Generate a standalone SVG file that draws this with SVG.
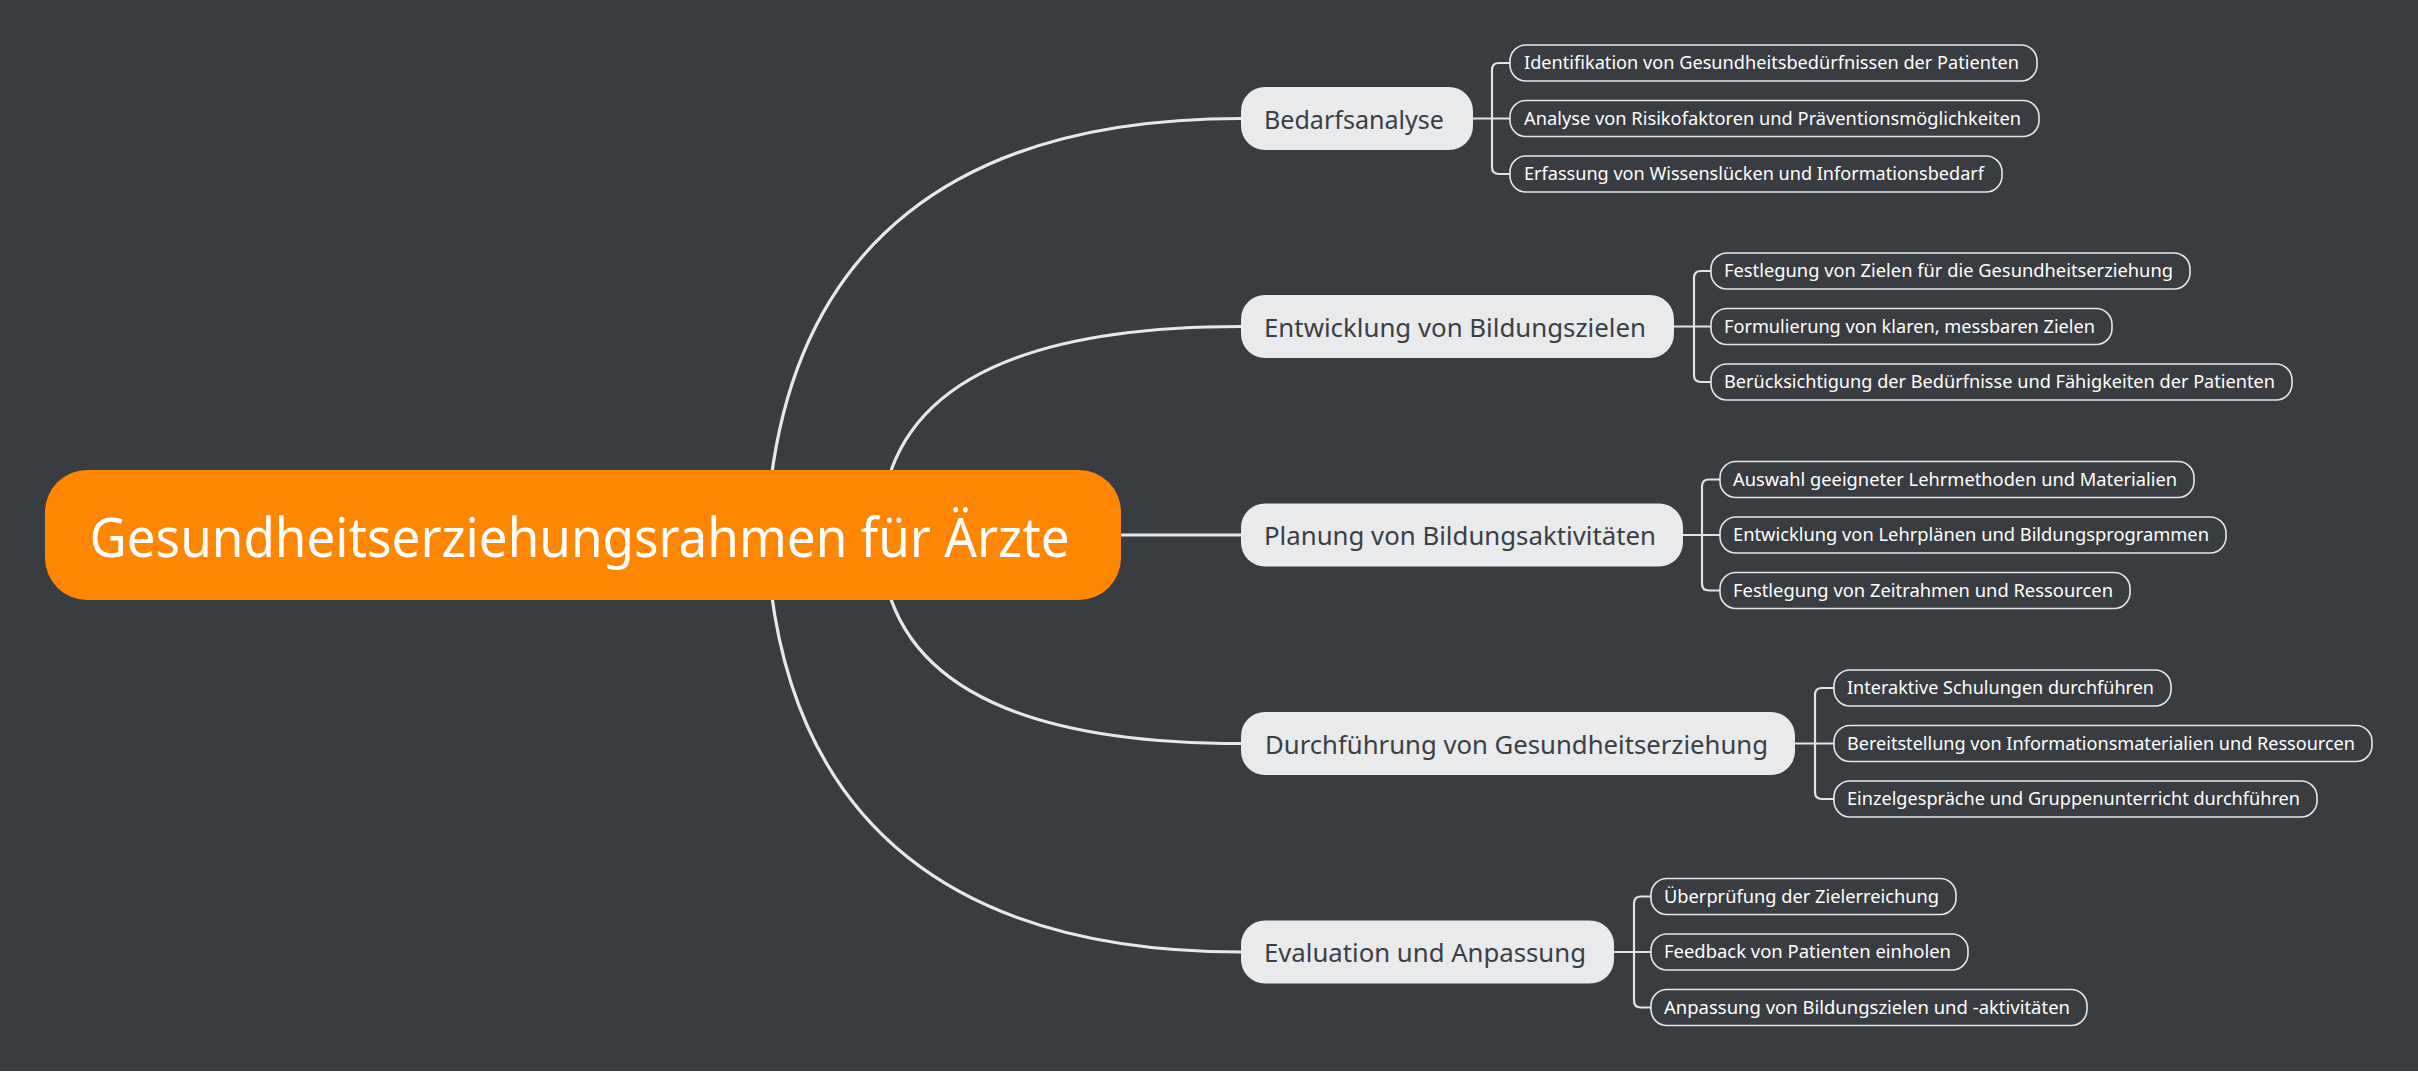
<svg xmlns="http://www.w3.org/2000/svg" width="2418" height="1086" viewBox="0 0 2418 1086">
<style>
.bg{fill:#393c41}
.conn{fill:none;stroke:#e8e8e8;stroke-width:3.2;stroke-linecap:round}
.br{fill:none;stroke:#e3e3e3;stroke-width:2.2}
.root{fill:#ff8600}
.main{fill:#e9eaec}
.leaf{fill:#393c41;stroke:#e6e6e6;stroke-width:1.6}
.tr{font-family:"Noto Sans","Open Sans","DejaVu Sans",sans-serif;font-size:54px;fill:#ffffff}
.tm{font-family:"Noto Sans","Open Sans","DejaVu Sans",sans-serif;font-size:26px;fill:#3b3e44}
.tl{font-family:"Noto Sans","Open Sans","DejaVu Sans",sans-serif;font-size:18px;fill:#ffffff}
</style>
<rect class="bg" x="0" y="0" width="2418" height="1086"/>
<rect x="0" y="1071" width="2418" height="15" fill="#ffffff"/>
<g id="connectors">
<path class="conn" d="M771,480 C800,250 950,118.5 1241,118.5"/>
<path class="conn" d="M888,480 C920,370 1050,326.5 1241,326.5"/>
<path class="conn" d="M1110,535 H1241"/>
<path class="conn" d="M888,590 C920,700 1050,743.5 1241,743.5"/>
<path class="conn" d="M771,590 C800,820 950,952 1241,952"/>
<path class="br" d="M1473,118.5 H1510 M1510,63 H1499 Q1492,63 1492,70 V167 Q1492,174 1499,174 H1510"/>
<path class="br" d="M1674,326.5 H1711 M1711,271 H1701 Q1694,271 1694,278 V375 Q1694,382 1701,382 H1711"/>
<path class="br" d="M1683,535 H1720 M1720,479.5 H1709 Q1702,479.5 1702,486.5 V583.5 Q1702,590.5 1709,590.5 H1720"/>
<path class="br" d="M1795,743.5 H1834 M1834,688 H1822 Q1815,688 1815,695 V792 Q1815,799 1822,799 H1834"/>
<path class="br" d="M1614,952 H1651 M1651,896.5 H1641 Q1634,896.5 1634,903.5 V1000.5 Q1634,1007.5 1641,1007.5 H1651"/>
</g>
<g id="root">
<rect class="root" x="45" y="470" width="1076" height="130" rx="42"/>
<text class="tr" x="89.5" y="556.5" textLength="980" lengthAdjust="spacingAndGlyphs">Gesundheitserziehungsrahmen für Ärzte</text>
</g>
<g id="n1">
<rect class="main" x="1241" y="87" width="232" height="63" rx="24"/>
<text class="tm" x="1264" y="128.5" textLength="180" lengthAdjust="spacingAndGlyphs">Bedarfsanalyse</text>
</g>
<g id="n1a"><rect class="leaf" x="1510" y="45" width="527" height="36" rx="16"/><text class="tl" x="1524" y="69.3" textLength="495" lengthAdjust="spacingAndGlyphs">Identifikation von Gesundheitsbedürfnissen der Patienten</text></g>
<g id="n1b"><rect class="leaf" x="1510" y="100.5" width="529" height="36" rx="16"/><text class="tl" x="1524" y="124.8" textLength="497" lengthAdjust="spacingAndGlyphs">Analyse von Risikofaktoren und Präventionsmöglichkeiten</text></g>
<g id="n1c"><rect class="leaf" x="1510" y="156" width="492" height="36" rx="16"/><text class="tl" x="1524" y="180.3" textLength="460" lengthAdjust="spacingAndGlyphs">Erfassung von Wissenslücken und Informationsbedarf</text></g>
<g id="n2">
<rect class="main" x="1241" y="295" width="433" height="63" rx="24"/>
<text class="tm" x="1264" y="336.5" textLength="382" lengthAdjust="spacingAndGlyphs">Entwicklung von Bildungszielen</text>
</g>
<g id="n2a"><rect class="leaf" x="1711" y="253" width="479" height="36" rx="16"/><text class="tl" x="1724" y="277.3" textLength="449" lengthAdjust="spacingAndGlyphs">Festlegung von Zielen für die Gesundheitserziehung</text></g>
<g id="n2b"><rect class="leaf" x="1711" y="308.5" width="401" height="36" rx="16"/><text class="tl" x="1724" y="332.8" textLength="371" lengthAdjust="spacingAndGlyphs">Formulierung von klaren, messbaren Zielen</text></g>
<g id="n2c"><rect class="leaf" x="1711" y="364" width="581" height="36" rx="16"/><text class="tl" x="1724" y="388.3" textLength="551" lengthAdjust="spacingAndGlyphs">Berücksichtigung der Bedürfnisse und Fähigkeiten der Patienten</text></g>
<g id="n3">
<rect class="main" x="1241" y="503.5" width="442" height="63" rx="24"/>
<text class="tm" x="1264" y="545" textLength="392" lengthAdjust="spacingAndGlyphs">Planung von Bildungsaktivitäten</text>
</g>
<g id="n3a"><rect class="leaf" x="1720" y="461.5" width="474" height="36" rx="16"/><text class="tl" x="1733" y="485.8" textLength="444" lengthAdjust="spacingAndGlyphs">Auswahl geeigneter Lehrmethoden und Materialien</text></g>
<g id="n3b"><rect class="leaf" x="1720" y="517" width="506" height="36" rx="16"/><text class="tl" x="1733" y="541.3" textLength="476" lengthAdjust="spacingAndGlyphs">Entwicklung von Lehrplänen und Bildungsprogrammen</text></g>
<g id="n3c"><rect class="leaf" x="1720" y="572.5" width="410" height="36" rx="16"/><text class="tl" x="1733" y="596.8" textLength="380" lengthAdjust="spacingAndGlyphs">Festlegung von Zeitrahmen und Ressourcen</text></g>
<g id="n4">
<rect class="main" x="1241" y="712" width="554" height="63" rx="24"/>
<text class="tm" x="1265" y="753.5" textLength="503" lengthAdjust="spacingAndGlyphs">Durchführung von Gesundheitserziehung</text>
</g>
<g id="n4a"><rect class="leaf" x="1834" y="670" width="337" height="36" rx="16"/><text class="tl" x="1847" y="694.3" textLength="307" lengthAdjust="spacingAndGlyphs">Interaktive Schulungen durchführen</text></g>
<g id="n4b"><rect class="leaf" x="1834" y="725.5" width="538" height="36" rx="16"/><text class="tl" x="1847" y="749.8" textLength="508" lengthAdjust="spacingAndGlyphs">Bereitstellung von Informationsmaterialien und Ressourcen</text></g>
<g id="n4c"><rect class="leaf" x="1834" y="781" width="483" height="36" rx="16"/><text class="tl" x="1847" y="805.3" textLength="453" lengthAdjust="spacingAndGlyphs">Einzelgespräche und Gruppenunterricht durchführen</text></g>
<g id="n5">
<rect class="main" x="1241" y="920.5" width="373" height="63" rx="24"/>
<text class="tm" x="1264" y="962" textLength="322" lengthAdjust="spacingAndGlyphs">Evaluation und Anpassung</text>
</g>
<g id="n5a"><rect class="leaf" x="1651" y="878.5" width="305" height="36" rx="16"/><text class="tl" x="1664" y="902.8" textLength="275" lengthAdjust="spacingAndGlyphs">Überprüfung der Zielerreichung</text></g>
<g id="n5b"><rect class="leaf" x="1651" y="934" width="317" height="36" rx="16"/><text class="tl" x="1664" y="958.3" textLength="287" lengthAdjust="spacingAndGlyphs">Feedback von Patienten einholen</text></g>
<g id="n5c"><rect class="leaf" x="1651" y="989.5" width="436" height="36" rx="16"/><text class="tl" x="1664" y="1013.8" textLength="406" lengthAdjust="spacingAndGlyphs">Anpassung von Bildungszielen und -aktivitäten</text></g>
</svg>
